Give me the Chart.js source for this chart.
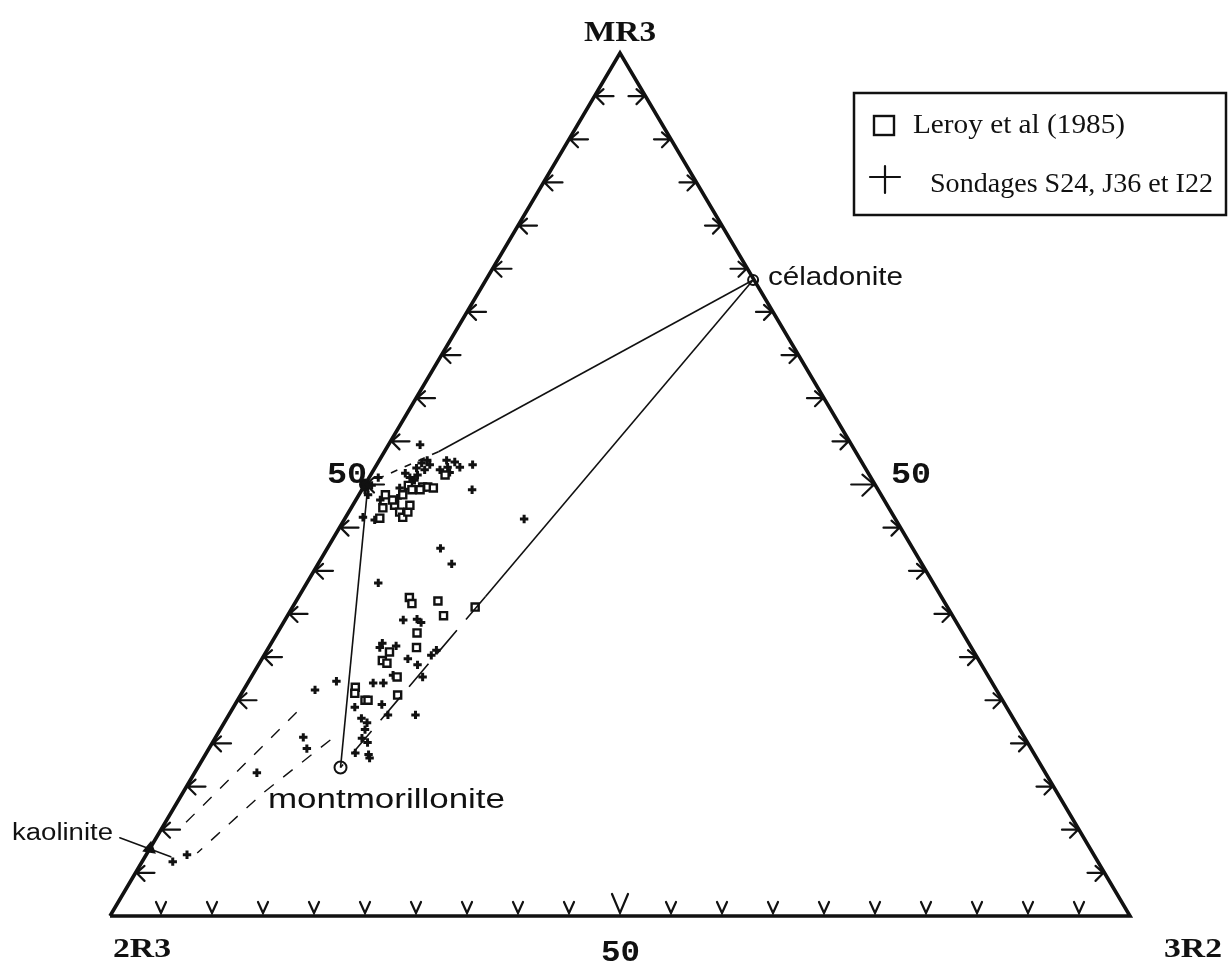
<!DOCTYPE html>
<html>
<head>
<meta charset="utf-8">
<script src="https://cdn.jsdelivr.net/npm/chart.js@4/dist/chart.umd.min.js"></script>
<style>
  html, body { margin: 0; padding: 0; background: #ffffff; }
  #wrap { width: 1228px; height: 969px; position: relative; }
</style>
</head>
<body>
<div id="wrap"><canvas id="tern"></canvas></div>
<script>
// compositions in % : MR3 and 3R2 (2R3 = 100 - MR3 - 3R2)
const leroyMR3 = [49.7, 49.7, 49.6, 49.9, 49.4, 48.8, 49.4, 47.6, 48.2, 47.3, 46.1, 46.8, 46.2, 46.8, 47.6, 51.1, 48.8,
                  36.9, 36.2, 36.5, 34.8, 32.8, 30.6, 31.1, 29.6, 29.3, 27.7, 26.5, 25.8, 25.6, 25.0, 25.0, 35.8];
const leroy3R2 = [5.8, 6.3, 6.9, 4.3, 4.9, 4.3, 5.7, 4.1, 3.6, 3.1, 3.4, 5.0, 5.6, 5.8, 5.6, 7.3, 2.6,
                  10.9, 11.5, 13.9, 15.3, 13.7, 12.1, 14.5, 11.9, 12.5, 14.3, 10.8, 11.1, 15.4, 12.5, 12.8, 17.9];

const sondMR3 = [54.6, 52.5, 51.9, 52.8, 52.8, 52.0, 51.4, 52.0, 52.3, 49.4, 51.3, 50.8, 50.5, 49.6, 51.1, 48.4,
                 45.9, 46.2, 49.4, 48.8, 52.3, 51.7, 51.7, 52.6, 48.2, 49.9, 50.8,
                 46.0, 42.6, 40.8, 38.6,
                 34.3, 34.4, 34.0, 31.6, 31.1, 31.3, 30.8, 30.2, 29.8, 29.1, 27.9, 27.7, 27.2, 27.0, 27.0,
                 24.2, 24.5, 23.3, 23.3, 22.9, 22.4, 21.6, 20.6, 20.1, 18.9, 18.7, 18.3,
                 26.2, 20.7, 19.4, 16.6, 6.3, 7.1];
const sond3R2 = [3.1, 4.3, 4.1, 4.7, 6.6, 7.1, 7.6, 8.3, 9.4, 10.8, 3.3, 4.0, 4.6, 3.6, 4.6, 4.0,
                 3.0, 1.7, 0.3, 0.9, 5.2, 5.0, 6.5, 7.5, 2.4, 0.7, 0.9,
                 17.6, 11.1, 13.1, 7.0,
                 11.6, 12.9, 13.5, 10.9, 10.9, 12.4, 16.6, 16.4, 14.3, 15.6, 13.8, 16.8, 8.6, 12.3, 13.3,
                 11.9, 14.4, 15.6, 18.3, 13.2, 14.0, 14.2, 14.4, 15.2, 14.6, 16.0, 16.3,
                 7.0, 8.6, 9.6, 6.1, 3.0, 4.0];

// end members: céladonite, montmorillonite, kaolinite, point 50 on MR3-2R3 side
const poleMR3 = [73.7, 17.2, 7.8, 50];
const pole3R2 = [26.2, 14.0, 0, 0];

// tie lines  [MR3, 3R2]
const celMontSolid = [[73.7, 26.2], [37.0, 18.3]];
const celMontDash = [[37.0, 18.3], [17.2, 14.0]];
const montTop = [[17.2, 14.0], [49.5, 0.5]];
const celTop = [[73.7, 26.2], [53.8, 5.3]];
const topDash = [[53.8, 5.3], [50.0, 0.0]];
const kaolUpper = [[23.6, 6.5], [10.2, 1.8]];
const kaolLower = [[20.4, 11.4], [14.3, 7.9], [9.4, 5.8], [7.3, 4.9]];

const tickValues = [5, 10, 15, 20, 25, 30, 35, 40, 45, 50, 55, 60, 65, 70, 75, 80, 85, 90, 95];

function toXY(mr3, r32) {
    return { x: r32 + mr3 / 2, y: mr3 };
}
function pairs(list) {
    return list.map(p => toXY(p[0], p[1]));
}

const outline = [toXY(0, 0), toXY(100, 0), toXY(0, 100), toXY(0, 0)];

function lineSet(pts, dash, w) {
    return {
        type: 'line', data: pairs(pts), borderColor: '#111', borderWidth: w || 1.6,
        borderDash: dash || [], pointRadius: 0, fill: false, tension: 0, clip: false
    };
}

// text stretched to a given width (left edge x, baseline y)
function fitText(ctx, txt, x, y, width, font) {
    ctx.save();
    ctx.font = font;
    ctx.textAlign = 'left';
    ctx.textBaseline = 'alphabetic';
    const w = ctx.measureText(txt).width;
    ctx.translate(x, y);
    ctx.scale(width / w, 1);
    ctx.fillText(txt, 0, 0);
    ctx.restore();
}

const overlay = {
    id: 'overlay',
    afterDraw(chart) {
        const ctx = chart.ctx;
        const sx = chart.scales.x, sy = chart.scales.y;
        const px = (mr3, r32) => {
            const p = toXY(mr3, r32);
            return [sx.getPixelForValue(p.x), sy.getPixelForValue(p.y)];
        };
        ctx.save();
        ctx.strokeStyle = '#111';
        ctx.lineWidth = 2.2;
        ctx.lineCap = 'round';
        tickValues.forEach(v => {
            const big = v === 50;
            // bottom side (MR3 = 0)
            let [x, y] = px(0, v);
            let h = big ? 20 : 12, w = big ? 8 : 5;
            ctx.beginPath();
            ctx.moveTo(x - w, y - h - 2); ctx.lineTo(x, y - 3); ctx.lineTo(x + w, y - h - 2);
            ctx.stroke();
            // left side (3R2 = 0)
            [x, y] = px(v, 0);
            ctx.beginPath();
            ctx.moveTo(x + 9, y - 7); ctx.lineTo(x + 1, y); ctx.lineTo(x + 9, y + 8);
            ctx.moveTo(x + 1, y); ctx.lineTo(x + 19, y);
            ctx.stroke();
            // right side (2R3 = 0)
            [x, y] = px(v, 100 - v);
            const s = big ? 1.4 : 1;
            ctx.beginPath();
            ctx.moveTo(x - 9 * s, y - 7 * s); ctx.lineTo(x - 1, y); ctx.lineTo(x - 9 * s, y + 8 * s);
            ctx.moveTo(x - 1, y); ctx.lineTo(x - 17 * s, y);
            ctx.stroke();
        });

        // kaolinite pointer
        const [kx, ky] = px(poleMR3[2], pole3R2[2]);
        ctx.lineWidth = 1.5;
        ctx.beginPath();
        ctx.moveTo(kx - 30, ky - 11); ctx.lineTo(kx + 21, ky + 8);
        ctx.stroke();

        // texts
        ctx.fillStyle = '#111';
        fitText(ctx, 'MR3', 584, 41, 72, 'bold 30px "Liberation Serif"');
        fitText(ctx, '2R3', 113, 957, 58, 'bold 28px "Liberation Serif"');
        fitText(ctx, '3R2', 1164, 957, 58, 'bold 28px "Liberation Serif"');
        fitText(ctx, '50', 601, 961, 39, 'bold 30px "Liberation Mono"');
        fitText(ctx, '50', 327, 483, 40, 'bold 30px "Liberation Mono"');
        fitText(ctx, '50', 891, 483, 40, 'bold 30px "Liberation Mono"');

        fitText(ctx, 'céladonite', 768, 285, 135, '26px "Liberation Sans"');
        fitText(ctx, 'montmorillonite', 268, 808, 237, '27px "Liberation Sans"');
        fitText(ctx, 'kaolinite', 12, 840, 101, '23px "Liberation Sans"');

        // legend box
        ctx.lineWidth = 2.5;
        ctx.strokeRect(854, 93, 372, 122);
        fitText(ctx, chart.data.datasets[9].label, 913, 133, 212, '28px "Liberation Serif"');
        fitText(ctx, chart.data.datasets[10].label, 930, 192, 283, '28px "Liberation Serif"');
        ctx.lineWidth = 2.4;
        ctx.strokeRect(874, 116, 20, 19);
        ctx.lineWidth = 2.2;
        ctx.beginPath();
        ctx.moveTo(870, 177); ctx.lineTo(900, 177);
        ctx.moveTo(885, 166); ctx.lineTo(885, 193);
        ctx.stroke();
        ctx.restore();
    }
};

document.addEventListener('DOMContentLoaded', function () {
    const canvas = document.getElementById('tern');
    const datasets = [
        { type: 'line', data: outline, borderColor: '#111', borderWidth: 3.6, pointRadius: 0, fill: false, tension: 0, clip: false },
        lineSet(celMontSolid),
        lineSet(celMontDash, [30, 14]),
        lineSet(montTop),
        lineSet(celTop),
        lineSet(topDash, [7, 8]),
        lineSet(kaolUpper, [12, 12], 1.4),
        lineSet(kaolLower, [12, 12], 1.4),
        {
            type: 'scatter', label: 'poles',
            data: poleMR3.map((m, i) => toXY(m, pole3R2[i])),
            pointStyle: ['circle', 'circle', 'triangle', 'circle'],
            pointRadius: [5, 6, 6, 5],
            pointRotation: [0, 0, 250, 0],
            pointBackgroundColor: ['#fff', '#fff', '#111', '#111'],
            pointBorderColor: '#111', pointBorderWidth: 2, clip: false
        },
        {
            type: 'scatter', label: 'Leroy et al (1985)',
            data: leroyMR3.map((m, i) => toXY(m, leroy3R2[i])),
            pointStyle: 'rect', pointRadius: 5, pointBackgroundColor: '#fff',
            pointBorderColor: '#111', pointBorderWidth: 2.4, clip: false
        },
        {
            type: 'scatter', label: 'Sondages S24, J36 et I22',
            data: sondMR3.map((m, i) => toXY(m, sond3R2[i])),
            pointStyle: 'cross', pointRadius: 4.2, pointBorderColor: '#111',
            pointBorderWidth: 3, clip: false
        }
    ];

    new Chart(canvas.getContext('2d'), {
        type: 'scatter',
        data: { datasets: datasets },
        options: {
            responsive: true,
            maintainAspectRatio: false,
            animation: false,
            events: [],
            layout: { padding: { left: 110, right: 98, top: 53, bottom: 53 } },
            plugins: { legend: { display: false }, tooltip: { enabled: false } },
            scales: {
                x: { type: 'linear', min: 0, max: 100, display: false },
                y: { type: 'linear', min: 0, max: 100, display: false }
            }
        },
        plugins: [overlay]
    });
});
</script>
</body>
</html>
